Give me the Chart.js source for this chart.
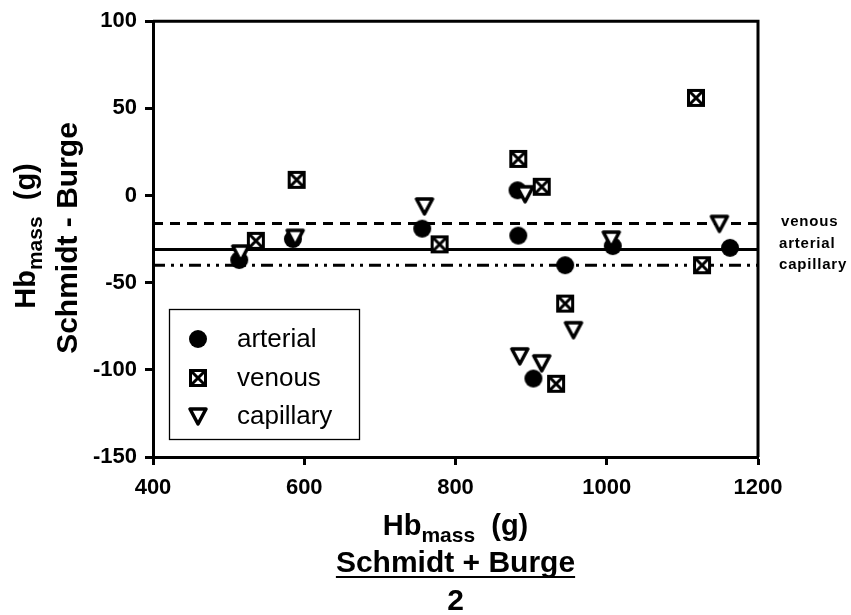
<!DOCTYPE html>
<html>
<head>
<meta charset="utf-8">
<script src="https://cdn.jsdelivr.net/npm/chart.js@4.4.1/dist/chart.umd.min.js"></script>
<style>
  html, body { margin: 0; padding: 0; background: #fff; }
  #wrap { width: 851px; height: 615px; }
</style>
</head>
<body>
<div id="wrap"><canvas id="chart" width="851" height="615"></canvas></div>
<script>
// ─── DATA ────────────────────────────────────────────────────────────────────
const SERIES = ['arterial', 'venous', 'capillary'];

const ARTERIAL_X = [514, 585, 756, 882, 883, 903, 945, 1008, 1163];
const ARTERIAL_Y = [-37, -25, -19, 3, -23, -105, -40, -29, -30];

const VENOUS_X = [536, 590, 779, 883, 914, 945, 933, 1118, 1126];
const VENOUS_Y = [-26, 9, -28, 21, 5, -62, -108, 56, -40];

const CAPILLARY_X = [516, 588, 759, 892, 885, 914, 956, 1006, 1149];
const CAPILLARY_Y = [-33, -24, -6, 1, -92, -96, -77, -25, -16];

// mean differences (horizontal reference lines)
const MEAN_VENOUS    = -16;
const MEAN_ARTERIAL  = -31;
const MEAN_CAPILLARY = -40;

const X_RANGE = [400, 1200];
const Y_RANGE = [-150, 100];

const FONT = "'Liberation Sans', Arial, sans-serif";

// ─── MARKERS ─────────────────────────────────────────────────────────────────
function makeMarker(kind) {
  const s = 26;
  const c = document.createElement('canvas');
  c.width = s; c.height = s;
  const g = c.getContext('2d');
  const m = s / 2;
  g.fillStyle = '#000';
  g.strokeStyle = '#000';
  if (kind === 'circle') {
    g.beginPath();
    g.arc(m, m, 9, 0, Math.PI * 2);
    g.fill();
  } else if (kind === 'square') {
    g.fillRect(m - 9, m - 9, 18, 18);
    g.fillStyle = '#fff';
    g.fillRect(m - 6, m - 6, 12, 12);
    g.save();
    g.beginPath();
    g.rect(m - 6, m - 6, 12, 12);
    g.clip();
    g.lineWidth = 3;
    g.beginPath();
    g.moveTo(m - 6, m - 6); g.lineTo(m + 6, m + 6);
    g.moveTo(m + 6, m - 6); g.lineTo(m - 6, m + 6);
    g.stroke();
    g.restore();
  } else {
    g.fillStyle = '#fff';
    g.lineWidth = 3.5;
    g.lineJoin = 'round';
    g.beginPath();
    g.moveTo(m - 8, m - 7);
    g.lineTo(m + 8, m - 7);
    g.lineTo(m, m + 8);
    g.closePath();
    g.fill();
    g.stroke();
  }
  return c;
}

const MARKERS = {
  arterial: makeMarker('circle'),
  venous: makeMarker('square'),
  capillary: makeMarker('triangle'),
};

const toPoints = (xs, ys) => xs.map((x, i) => ({ x, y: ys[i] }));
const hLine = y => [{ x: X_RANGE[0], y }, { x: X_RANGE[1], y }];

// ─── DECORATION PLUGIN (frame, titles, legend, notes) ────────────────────────
const decor = {
  id: 'decor',
  afterDraw(chart) {
    const ctx = chart.ctx;
    const a = chart.chartArea;
    ctx.save();

    // frame top / right
    ctx.strokeStyle = '#000';
    ctx.lineWidth = 3;
    ctx.beginPath();
    ctx.moveTo(a.left, a.top);
    ctx.lineTo(a.right, a.top);
    ctx.lineTo(a.right, a.bottom);
    ctx.stroke();

    ctx.fillStyle = '#000';

    // x-axis title
    const cx = (a.left + a.right) / 2;
    drawHb(ctx, cx, 535);
    ctx.font = `bold 30px ${FONT}`;
    ctx.textAlign = 'center';
    ctx.textBaseline = 'alphabetic';
    ctx.fillText('Schmidt + Burge', cx, 572);
    const w = ctx.measureText('Schmidt + Burge').width;
    ctx.fillRect(cx - w / 2, 576, w, 2);
    ctx.fillText('2', cx, 610);

    // y-axis title (rotated)
    ctx.save();
    ctx.rotate(-Math.PI / 2);
    drawHb(ctx, -236, 35);
    ctx.font = `bold 30px ${FONT}`;
    ctx.textAlign = 'center';
    ctx.fillText('Schmidt - Burge', -238, 77);
    ctx.restore();

    // legend box
    ctx.lineWidth = 1.3;
    ctx.strokeRect(169.5, 309.5, 190, 130);
    const rows = [339, 378, 416];
    ctx.font = `26px ${FONT}`;
    ctx.textAlign = 'left';
    ctx.textBaseline = 'middle';
    SERIES.forEach((name, i) => {
      const img = MARKERS[name];
      ctx.drawImage(img, 198 - img.width / 2, rows[i] - img.height / 2);
      ctx.fillText(name, 237, rows[i] + 1);
    });

    // right-hand notes for mean lines
    ctx.font = `bold 15px ${FONT}`;
    ctx.letterSpacing = '0.8px';
    ctx.fillText('venous', 781, 222);
    ctx.fillText('arterial', 779, 244);
    ctx.fillText('capillary', 779, 265);
    ctx.restore();
  }
};

function drawHb(ctx, cx, baseY) {
  ctx.textBaseline = 'alphabetic';
  ctx.textAlign = 'left';
  ctx.font = `bold 29px ${FONT}`;
  const w1 = ctx.measureText('Hb').width;
  const w3 = ctx.measureText('  (g)').width;
  ctx.font = `bold 21px ${FONT}`;
  const w2 = ctx.measureText('mass').width;
  let x = cx - (w1 + w2 + w3) / 2;
  ctx.font = `bold 29px ${FONT}`;
  ctx.fillText('Hb', x, baseY);
  x += w1;
  ctx.font = `bold 21px ${FONT}`;
  ctx.fillText('mass', x, baseY + 7);
  x += w2;
  ctx.font = `bold 29px ${FONT}`;
  ctx.fillText('  (g)', x, baseY);
}

// ─── CHART ───────────────────────────────────────────────────────────────────
Chart.defaults.color = '#000';
Chart.defaults.font.family = FONT;

const meanLine = (label, y, dash) => ({
  label,
  data: hLine(y),
  showLine: true,
  borderColor: '#000',
  borderWidth: 3,
  borderDash: dash,
  pointRadius: 0,
  order: 5,
});

new Chart(document.getElementById('chart'), {
  type: 'scatter',
  data: {
    datasets: [
      { label: 'capillary', data: toPoints(CAPILLARY_X, CAPILLARY_Y), pointStyle: MARKERS.capillary, order: 0 },
      { label: 'venous', data: toPoints(VENOUS_X, VENOUS_Y), pointStyle: MARKERS.venous, order: 1 },
      { label: 'arterial', data: toPoints(ARTERIAL_X, ARTERIAL_Y), pointStyle: MARKERS.arterial, order: 2 },
      meanLine('venous mean', MEAN_VENOUS, [10, 7]),
      meanLine('arterial mean', MEAN_ARTERIAL, []),
      meanLine('capillary mean', MEAN_CAPILLARY, [12, 6, 3, 6, 3, 6]),
    ]
  },
  options: {
    responsive: false,
    animation: false,
    layout: { padding: { left: 0, top: 20, right: 93, bottom: 0 } },
    plugins: { legend: { display: false }, tooltip: { enabled: false } },
    scales: {
      x: {
        type: 'linear',
        min: X_RANGE[0], max: X_RANGE[1],
        afterFit: s => { s.height = 158; },
        border: { display: true, color: '#000', width: 3 },
        grid: { drawOnChartArea: false, drawTicks: true, tickLength: 8, tickWidth: 3, tickColor: '#000' },
        ticks: { stepSize: 200, padding: 10, font: { size: 22, weight: 'bold' }, callback: v => String(v) },
      },
      y: {
        min: Y_RANGE[0], max: Y_RANGE[1],
        afterFit: s => { s.width = 153; },
        border: { display: true, color: '#000', width: 3 },
        grid: { drawOnChartArea: false, drawTicks: true, tickLength: 8, tickWidth: 3, tickColor: '#000' },
        ticks: { stepSize: 50, padding: 8, font: { size: 22, weight: 'bold' }, callback: v => String(v) },
      }
    }
  },
  plugins: [decor]
});
</script>
</body>
</html>
